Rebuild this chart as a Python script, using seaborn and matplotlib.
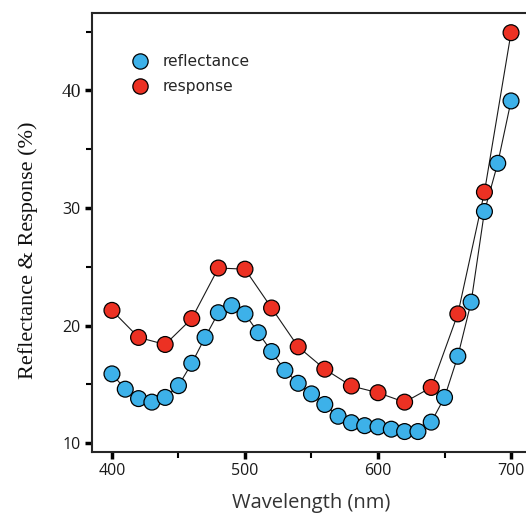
import numpy as np
import pandas as pd
import seaborn as sns
import matplotlib.pyplot as plt
from matplotlib.lines import Line2D
from matplotlib.ticker import MultipleLocator

# Spectral data
wl_reflectance = [400, 410, 420, 430, 440, 450, 460, 470, 480, 490,
                  500, 510, 520, 530, 540, 550, 560, 570, 580, 590,
                  600, 610, 620, 630, 640, 650, 660, 670, 680, 690, 700]
reflectance = [15.9, 14.6, 13.8, 13.5, 13.9, 14.9, 16.8, 19.0, 21.1, 21.7,
               21.0, 19.4, 17.8, 16.2, 15.1, 14.2, 13.3, 12.3, 11.75, 11.5,
               11.4, 11.2, 11.0, 11.0, 11.8, 13.9, 17.4, 22.0, 29.7, 33.8, 39.1]

wl_response = [400, 420, 440, 460, 480, 500, 520, 540, 560, 580,
               600, 620, 640, 660, 680, 700]
response = [21.3, 19.0, 18.4, 20.6, 24.9, 24.8, 21.5, 18.2, 16.3, 14.87,
            14.3, 13.5, 14.75, 21.0, 31.35, 44.9]

series_names = ["reflectance", "response"]
series_colors = ["#3DB1E9", "#EC3123"]

df_ref = pd.DataFrame({"wavelength": wl_reflectance, "value": reflectance,
                       "series": series_names[0]})
df_res = pd.DataFrame({"wavelength": wl_response, "value": response,
                       "series": series_names[1]})
df = pd.concat([df_ref, df_res], ignore_index=True)

sns.set_style("ticks")
fig = plt.figure(figsize=(5.26, 5.16), dpi=100)
ax = fig.add_axes([0.1749, 0.124, 0.8346, 0.8514])

# connecting lines
for name in series_names:
    sub = df[df["series"] == name]
    sns.lineplot(data=sub, x="wavelength", y="value", color="#1a1a1a",
                 linewidth=0.8, ax=ax, legend=False, zorder=2)

# markers
sns.scatterplot(data=df, x="wavelength", y="value", hue="series",
                hue_order=series_names, palette=series_colors,
                s=130, edgecolor="black", linewidth=0.9, ax=ax,
                legend=False, zorder=3)

ax.set_xlim(385, 715)
ax.set_ylim(9.26, 46.6)
ax.xaxis.set_major_locator(MultipleLocator(100))
ax.xaxis.set_minor_locator(MultipleLocator(50))
ax.yaxis.set_major_locator(MultipleLocator(10))
ax.yaxis.set_minor_locator(MultipleLocator(5))

for side in ["top", "left", "bottom"]:
    ax.spines[side].set_linewidth(1.5)
ax.spines["right"].set_visible(False)

ax.tick_params(which="major", direction="out", length=5, width=2.5,
               color="black", pad=3)
ax.tick_params(which="minor", direction="out", length=4, width=1.5,
               color="black")

ax.set_xticks([400, 500, 600, 700])
ax.set_xticklabels(["400", "500", "600", "700"], fontfamily="Open Sans",
                   fontsize=11.5, color="#1a1a1a")
ax.set_yticks([10, 20, 30, 40])
ylabels = ax.set_yticklabels(["10", "20", "30", "40"], fontfamily="Open Sans",
                             fontsize=11.5, color="#1a1a1a")
ylabels[3].set_fontfamily("Liberation Serif")
ylabels[3].set_fontsize(14)

ax.set_xlabel("Wavelength (nm)", fontfamily="Open Sans", fontsize=14.5,
              color="#333333", labelpad=10)
ax.set_ylabel("Reflectance & Response (%)", fontfamily="Liberation Serif",
              fontsize=16, color="#111111")
ax.yaxis.set_label_coords(-0.122, 0.46)

handles = [Line2D([], [], linestyle="none", marker="o", markersize=11,
                  markerfacecolor=c, markeredgecolor="black",
                  markeredgewidth=0.9) for c in series_colors]
ax.legend(handles, series_names, loc="upper left", frameon=False,
          bbox_to_anchor=(0.06, 0.92), prop={"family": "DejaVu Sans", "size": 11.2},
          handletextpad=0.45, labelspacing=0.65, borderaxespad=0)

fig.savefig("out.png", dpi=100)
